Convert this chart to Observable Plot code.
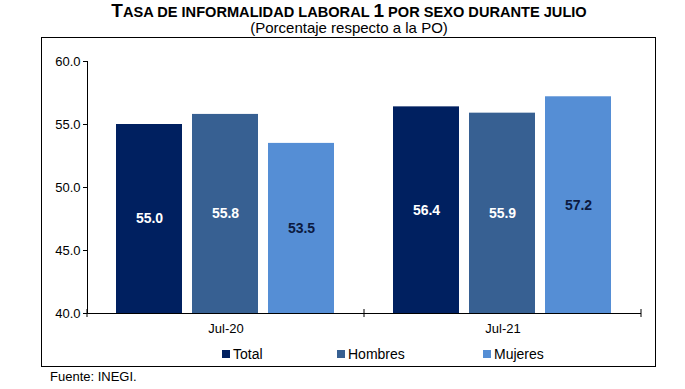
<!DOCTYPE html>
<html>
<head>
<meta charset="utf-8">
<script src="https://cdn.jsdelivr.net/npm/d3@7"></script>
<script src="https://cdn.jsdelivr.net/npm/@observablehq/plot@0.6"></script>
<style>
  html, body { margin: 0; padding: 0; background: #fff; }
  body { width: 685px; height: 389px; position: relative; overflow: hidden; font-family: "Liberation Sans", Arial, sans-serif; color: #000; }
  #title { position: absolute; left: 0; width: 698px; top: 0px; text-align: center; font-weight: bold; white-space: nowrap; line-height: 22px; }
  #title .big { font-size: 19px; }
  #title .sm { font-size: 14.6px; }
  #subtitle { position: absolute; left: 0; width: 698px; top: 19px; text-align: center; font-size: 15px; white-space: nowrap; }
  #box { position: absolute; left: 41px; top: 37px; width: 613px; height: 328px; border: 1.6px solid #000; }
  #chart { position: absolute; left: 0; top: 40px; }
  #legend { position: absolute; top: 346px; left: 0; width: 685px; height: 18px; font-size: 14px; }
  .item { position: absolute; top: 0; white-space: nowrap; }
  .sw { display: inline-block; width: 8px; height: 8px; margin-right: 3px; vertical-align: 1px; }
  #source { position: absolute; left: 50px; top: 369px; font-size: 13px; }
</style>
</head>
<body>
<div id="title"><span class="big">T</span><span class="sm">ASA DE INFORMALIDAD LABORAL </span><span class="big">1</span><span class="sm"> POR SEXO DURANTE JULIO</span></div>
<div id="subtitle">(Porcentaje respecto a la PO)</div>
<div id="box"></div>
<div id="chart"></div>
<div id="legend"></div>
<div id="source">Fuente: INEGI.</div>
<script>
const periods = ["Jul-20", "Jul-21"];
const series = ["Total", "Hombres", "Mujeres"];
const colors = ["#002060", "#376092", "#558ED5"];
const labelColors = ["#ffffff", "#ffffff", "#0c1a40"];
const totalValues = [55.0, 56.4];
const hombresValues = [55.8, 55.9];
const mujeresValues = [53.5, 57.2];
const yTicks = [40, 45, 50, 55, 60];

const valuesBySeries = [totalValues, hombresValues, mujeresValues];
const data = [];
periods.forEach((p, i) => {
  series.forEach((s, j) => {
    data.push({period: p, serie: s, value: valuesBySeries[j][i], labelColor: labelColors[j]});
  });
});

const yMin = yTicks[0], yMax = yTicks[yTicks.length - 1];

const plot = Plot.plot({
  width: 685,
  height: 305,
  marginTop: 21,
  marginBottom: 32,
  marginLeft: 87,
  marginRight: 44,
  style: {fontFamily: "'Liberation Sans', Arial, sans-serif", fontSize: "13px", color: "#000", background: "transparent"},
  fx: {domain: periods, paddingInner: 0, paddingOuter: 0, label: null, axis: "bottom", tickSize: 0, tickPadding: 10},
  x: {domain: series, paddingInner: 0.13, paddingOuter: 0.38, axis: null},
  y: {domain: [yMin, yMax], ticks: yTicks, tickFormat: d => d.toFixed(1), tickSize: 4, tickPadding: 3, label: null, line: true},
  color: {domain: series, range: colors},
  marks: [
    Plot.barY(data, {fx: "period", x: "serie", y1: yMin, y2: "value", fill: "serie"}),
    Plot.ruleY([yMin], {stroke: "#000", strokeWidth: 1}),
    Plot.text(data, {fx: "period", x: "serie", y: d => (d.value + yMin) / 2, text: d => d.value.toFixed(1), fill: "labelColor", fontWeight: "bold", fontSize: 14})
  ]
});
document.getElementById("chart").appendChild(plot);

// x-axis boundary ticks between categories, from Plot's fx scale
const fx = plot.scale("fx");
const yS = plot.scale("y");
const band = d3.scaleBand().domain(fx.domain).range(fx.range).paddingInner(0).paddingOuter(0);
const edges = [band(fx.domain[0])];
fx.domain.forEach(d => edges.push(band(d) + band.bandwidth()));
const y0 = yS.range[0];
const svg = d3.select(plot);
svg.append("g").attr("stroke", "#000").attr("stroke-width", 1)
  .selectAll("line").data(edges).join("line")
  .attr("x1", d => d).attr("x2", d => d)
  .attr("y1", y0 - 4).attr("y2", y0 + 4);

// legend
const legend = document.getElementById("legend");
const legendX = [222, 337, 483];
series.forEach((s, i) => {
  const el = document.createElement("div");
  el.className = "item";
  el.style.left = legendX[i] + "px";
  el.innerHTML = `<span class="sw" style="background:${colors[i]}"></span>${s}`;
  legend.appendChild(el);
});
</script>
</body>
</html>
